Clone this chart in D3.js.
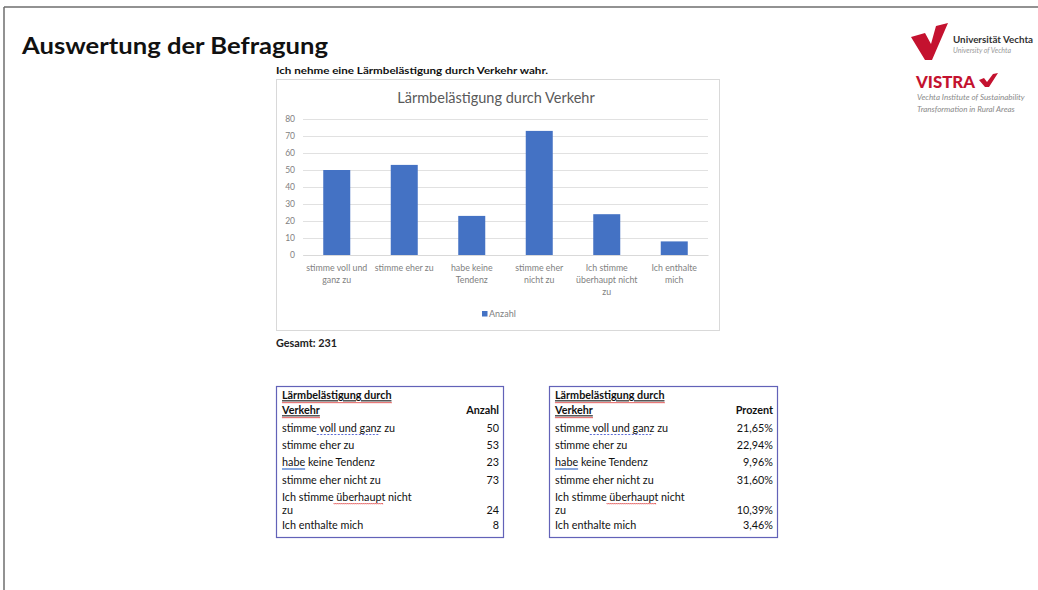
<!DOCTYPE html>
<html>
<head>
<meta charset="utf-8">
<script src="https://cdn.jsdelivr.net/npm/d3@7"></script>
<style>
  html, body { margin: 0; padding: 0; background: #fff; }
  svg { display: block; }
</style>
</head>
<body>
<svg id="slide" width="1038" height="590"></svg>
<script>
// ---------- data ----------
const categories = ["stimme voll und ganz zu", "stimme eher zu", "habe keine Tendenz", "stimme eher nicht zu", "Ich stimme überhaupt nicht zu", "Ich enthalte mich"];
const axisLabelLines = [["stimme voll und", "ganz zu"], ["stimme eher zu"], ["habe keine", "Tendenz"], ["stimme eher", "nicht zu"], ["Ich stimme", "überhaupt nicht", "zu"], ["Ich enthalte", "mich"]];
const tableLabelLines = [["stimme voll und ganz zu"], ["stimme eher zu"], ["habe keine Tendenz"], ["stimme eher nicht zu"], ["Ich stimme überhaupt nicht", "zu"], ["Ich enthalte mich"]];
const counts = [50, 53, 23, 73, 24, 8];
const percents = ["21,65%", "22,94%", "9,96%", "31,60%", "10,39%", "3,46%"];
const yTicks = [0, 10, 20, 30, 40, 50, 60, 70, 80];
const seriesName = "Anzahl";
const total = 231;

const svg = d3.select("#slide");
const FONT = "Lato, 'Open Sans', sans-serif";

// ---------- slide frame ----------
svg.append("line").attr("x1", 4).attr("x2", 1038).attr("y1", 7).attr("y2", 7)
  .attr("stroke", "#6e6e6e").attr("stroke-width", 1.5);
svg.append("line").attr("x1", 4).attr("x2", 4).attr("y1", 7).attr("y2", 590)
  .attr("stroke", "#6e6e6e").attr("stroke-width", 1.5);

// ---------- heading ----------
svg.append("text").attr("x", 22).attr("y", 54)
  .attr("font-family", FONT).attr("font-weight", "bold").attr("font-size", 22)
  .attr("fill", "#111").attr("textLength", 306).attr("lengthAdjust", "spacingAndGlyphs")
  .text("Auswertung der Befragung");

svg.append("text").attr("x", 276).attr("y", 74)
  .attr("font-family", FONT).attr("font-weight", "bold").attr("font-size", 9.5)
  .attr("fill", "#111").attr("textLength", 272).attr("lengthAdjust", "spacingAndGlyphs")
  .text("Ich nehme eine Lärmbelästigung durch Verkehr wahr.");

// ---------- logos ----------
const red = "#c4122f";
svg.append("path")
  .attr("d", "M911,37 L925,33 L931,44 L936,26 L948,23 L932,60 L925,60 Z")
  .attr("fill", red);
svg.append("text").attr("x", 953).attr("y", 43)
  .attr("font-family", FONT).attr("font-weight", "bold").attr("font-size", 9.8)
  .attr("fill", "#333").text("Universität Vechta");
svg.append("text").attr("x", 953).attr("y", 53)
  .attr("font-family", FONT).attr("font-style", "italic").attr("font-size", 7)
  .attr("fill", "#999").text("University of Vechta");
svg.append("text").attr("x", 916).attr("y", 88)
  .attr("font-family", FONT).attr("font-weight", "900").attr("font-size", 16)
  .attr("fill", red).attr("textLength", 59).attr("lengthAdjust", "spacingAndGlyphs").text("VISTRA");
svg.append("path")
  .attr("d", "M979,80 L984,78 L987,82 L993,74 L998,73 L989,87 L985,87 Z")
  .attr("fill", red);
svg.append("text").attr("x", 917).attr("y", 100)
  .attr("font-family", FONT).attr("font-style", "italic").attr("font-size", 8)
  .attr("fill", "#8a8a8a").text("Vechta Institute of Sustainability");
svg.append("text").attr("x", 917).attr("y", 112)
  .attr("font-family", FONT).attr("font-style", "italic").attr("font-size", 8)
  .attr("fill", "#8a8a8a").text("Transformation in Rural Areas");

// ---------- chart ----------
const box = { x: 276, y: 79, w: 443, h: 251 };
svg.append("rect").attr("x", box.x + 0.5).attr("y", box.y + 0.5)
  .attr("width", box.w).attr("height", box.h)
  .attr("fill", "#fff").attr("stroke", "#d9d9d9").attr("stroke-width", 1);

svg.append("text").attr("x", 496).attr("y", 103)
  .attr("text-anchor", "middle").attr("font-family", FONT).attr("font-size", 14.5)
  .attr("fill", "#595959").text("Lärmbelästigung durch Verkehr");

const plot = { left: 303, right: 708, top: 119, bottom: 255 };
const x = d3.scaleBand().domain(categories).range([plot.left, plot.right])
  .paddingInner(0.6).paddingOuter(0.3);
const y = d3.scaleLinear().domain([0, 80]).range([plot.bottom, plot.top]);

const yAxis = svg.append("g").attr("transform", `translate(${plot.left},0)`)
  .call(d3.axisLeft(y).tickValues(yTicks).tickSize(-(plot.right - plot.left)).tickPadding(8));
yAxis.select(".domain").remove();
yAxis.selectAll(".tick line").attr("stroke", "#d9d9d9").attr("stroke-width", 0.8);
yAxis.selectAll(".tick text").attr("font-family", FONT).attr("font-size", 8.5).attr("fill", "#7f7f7f");

svg.append("g").selectAll("rect").data(categories).join("rect")
  .attr("x", d => x(d)).attr("width", x.bandwidth())
  .attr("y", (d, i) => y(counts[i])).attr("height", (d, i) => y(0) - y(counts[i]))
  .attr("fill", "#4472c4");

const xAxis = svg.append("g").attr("transform", `translate(0,${plot.bottom})`)
  .call(d3.axisBottom(x).tickSize(0).tickFormat(""));
xAxis.select(".domain").attr("stroke", "#d9d9d9");
const xl = svg.append("g").selectAll("text").data(categories).join("text")
  .attr("text-anchor", "middle").attr("font-family", FONT).attr("font-size", 8.8)
  .attr("fill", "#7f7f7f")
  .attr("transform", d => `translate(${x(d) + x.bandwidth() / 2},${plot.bottom + 16})`);
xl.each(function (d, i) {
  d3.select(this).selectAll("tspan").data(axisLabelLines[i]).join("tspan")
    .attr("x", 0).attr("dy", (l, j) => j === 0 ? 0 : 12).text(l => l);
});

// legend
svg.append("rect").attr("x", 482).attr("y", 311).attr("width", 5.5).attr("height", 5.5).attr("fill", "#4472c4");
svg.append("text").attr("x", 489).attr("y", 317).attr("font-family", FONT).attr("font-size", 9)
  .attr("fill", "#7f7f7f").text(seriesName);

svg.append("text").attr("x", 276).attr("y", 347)
  .attr("font-family", FONT).attr("font-weight", "bold").attr("font-size", 10.8)
  .attr("fill", "#222").text("Gesamt: " + total);

// ---------- tables ----------
function wavy(g, x0, x1, yy, color) {
  let d = `M${x0},${yy}`;
  for (let xx = x0; xx < x1; xx += 2) d += ` L${Math.min(xx + 1, x1)},${yy + 1.2} L${Math.min(xx + 2, x1)},${yy}`;
  g.append("path").attr("d", d).attr("fill", "none").attr("stroke", color).attr("stroke-width", 0.7);
}

const TF = 10.8;
function measure(g, s) {
  const t = g.append("text").attr("font-family", FONT).attr("font-size", TF).text(s);
  const w = t.node().getComputedTextLength(); t.remove(); return w;
}
const rowY = [[428], [445.5], [462.5], [480], [497, 510], [525.5]];
function drawTable(x0, x1, header, values) {
  const g = svg.append("g");
  g.append("rect").attr("x", x0 + 0.5).attr("y", 386.5).attr("width", x1 - x0).attr("height", 151)
    .attr("fill", "#fff").attr("stroke", "#6262b8").attr("stroke-width", 1.2);
  const tx = x0 + 6, rx = x1 - 4;
  const txt = (xx, yy, s, bold, anchor) => g.append("text").attr("x", xx).attr("y", yy + 3.8)
    .attr("font-family", FONT).attr("font-size", TF).attr("font-weight", bold ? "bold" : "normal")
    .attr("fill", "#111").attr("text-anchor", anchor || "start").text(s);
  const h1 = txt(tx, 395.5, "Lärmbelästigung durch", true).attr("text-decoration", "underline");
  const h2 = txt(tx, 410.5, "Verkehr", true).attr("text-decoration", "underline");
  txt(rx, 410.5, header, true, "end");
  wavy(g, tx, tx + h1.node().getComputedTextLength(), 402, "#d33");
  wavy(g, tx, tx + h2.node().getComputedTextLength(), 417, "#d33");
  tableLabelLines.forEach((lines, i) => {
    lines.forEach((l, j) => {
      txt(tx, rowY[i][j], l, false);
      // proofing marks
      if (l.includes("voll und ganz")) {
        const a = measure(g, "stimme "), b = measure(g, "voll und ganz");
        g.append("line").attr("x1", tx + a).attr("x2", tx + a + b).attr("y1", rowY[i][j] + 6.5).attr("y2", rowY[i][j] + 6.5)
          .attr("stroke", "#4a5bd0").attr("stroke-width", 0.9).attr("stroke-dasharray", "2,1.5");
      }
      if (l.startsWith("habe")) {
        const b = measure(g, "habe");
        g.append("line").attr("x1", tx).attr("x2", tx + b).attr("y1", rowY[i][j] + 6.5).attr("y2", rowY[i][j] + 6.5)
          .attr("stroke", "#4a7bd0").attr("stroke-width", 1.3);
      }
      if (l.includes("überhaupt")) {
        const a = measure(g, "Ich stimme "), b = measure(g, "überhaupt");
        wavy(g, tx + a, tx + a + b, rowY[i][j] + 6, "#d33");
      }
    });
    txt(rx, rowY[i][rowY[i].length - 1], values[i], false, "end");
  });
}
drawTable(276, 503, "Anzahl", counts.map(String));
drawTable(549, 777, "Prozent", percents);
</script>
</body>
</html>
